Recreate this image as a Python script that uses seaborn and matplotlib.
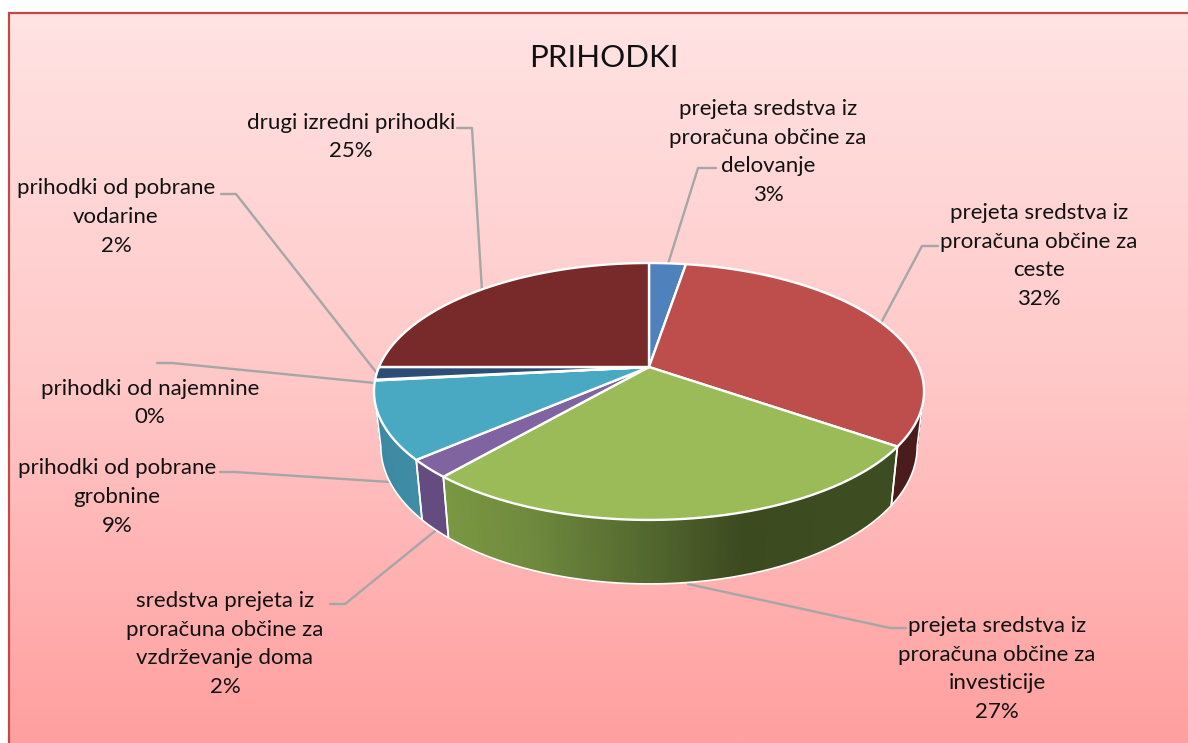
import numpy as np
import matplotlib
matplotlib.use("Agg")
import matplotlib.pyplot as plt
import seaborn as sns

# slices, clockwise from 12 o'clock
categories = [
    "prejeta sredstva iz\nproračuna občine za\ndelovanje",
    "prejeta sredstva iz\nproračuna občine za\nceste",
    "prejeta sredstva iz\nproračuna občine za\ninvesticije",
    "sredstva prejeta iz\nproračuna občine za\nvzdrževanje doma",
    "prihodki od pobrane\ngrobnine",
    "prihodki od najemnine",
    "prihodki od pobrane\nvodarine",
    "drugi izredni prihodki",
]
shares = [2.6, 32.1, 26.6, 2.3, 9.7, 0.1, 1.6, 25.0]
percent_labels = ["3%", "32%", "27%", "2%", "9%", "0%", "2%", "25%"]
top_colors = ["#4f81bd", "#bd4e4c", "#9bbb59", "#8064a2", "#49a9c3", "#f79646", "#2c4d75", "#772a29"]
# wall shades run clockwise, so right side first
wall_colors = {
    1: ["#4a1c1c", "#4a1c1c"],
    2: ["#3e4c22", "#3e4c22", "#3c4a20", "#566b30", "#6f8a3e", "#7a9842"],
    3: ["#654c80", "#654c80"],
    4: ["#3f8ca6", "#3a88a0"],
}

# label centre and leader line, in picture pixels
label_pos = [(768, 152), (1039, 256), (997, 669), (225, 644), (117, 497), (150, 403), (116, 217), (351, 137)]
leaders = [
    [(668, 264), (698, 168), (716, 168)],
    [(881, 323), (922, 246), (938, 246)],
    [(688, 584), (890, 628), (906, 628)],
    [(435, 531), (345, 604), (330, 604)],
    [(390, 482), (235, 472), (220, 472)],
    [(375, 383), (172, 363), (157, 363)],
    [(376, 372), (236, 194), (221, 194)],
    [(482, 291), (472, 128), (457, 128)],
]

CX, CY = 649, 367
PERSP = 0.1905
RX, RY = 270, 123.8
VISIBLE = (101, 259)


def rim(theta):
    # top rim of the tilted disc, theta in degrees clockwise from the top
    t = np.radians(theta)
    u, v = np.sin(t), np.cos(t)
    d = 1 + PERSP * v
    return RX * u / d, -RY * v / d


def top_rim(theta):
    x, y = rim(theta)
    return CX + x, CY + y


def bottom_rim(theta):
    x, y = rim(theta)
    return CX + 0.975 * x, CY + 1.068 * y + 53.6


sns.set_theme(style="white")
plt.rcParams["font.family"] = ["Lato", "DejaVu Sans"]

fig = plt.figure(figsize=(11.88, 7.43), dpi=100, facecolor="white")
ax = fig.add_axes([0, 0, 1, 1])

# background gradient
bg = sns.blend_palette(["#ffe3e3", "#ffc8c8", "#ff9f9f"], n_colors=256)
ax.imshow(np.array(bg)[:, None, :], extent=(8, 1188, 743, 12), aspect="auto", zorder=0)
ax.plot([9, 9, 1188], [743, 13, 13], color="#be4b48", lw=1.6, zorder=1, solid_joinstyle="miter")

edges = np.concatenate([[0], np.cumsum(shares)]) * 3.6

# side walls, each strip overlaps the next so no seams show
for i, colors in wall_colors.items():
    a = max(edges[i], VISIBLE[0])
    b = min(edges[i + 1], VISIBLE[1])
    steps = np.linspace(a, b, int((b - a) * 2) + 2)
    shades = sns.blend_palette(colors, n_colors=len(steps) - 1)
    for s0, s1, c in zip(steps[:-1], steps[1:], shades):
        s2 = min(s1 + 1.0, b)
        p = [top_rim(s0), top_rim(s2), bottom_rim(s2), bottom_rim(s0)]
        ax.fill(*zip(*p), color=c, lw=0, zorder=2)
    outline = [top_rim(a)] + [bottom_rim(s) for s in steps] + [top_rim(b)]
    ax.plot(*zip(*outline), color="white", lw=1.2, zorder=3)

# top faces
for i, c in enumerate(top_colors):
    steps = np.linspace(edges[i], edges[i + 1], max(int(shares[i] * 8), 3))
    p = [(CX, CY)] + [top_rim(s) for s in steps]
    ax.fill(*zip(*p), facecolor=c, edgecolor="white", lw=1.7, zorder=4, joinstyle="round")

# leader lines and labels
for line in leaders:
    ax.plot(*zip(*line), color="#a6a6a6", lw=1.7, zorder=1.5)
for name, pct, (x, y) in zip(categories, percent_labels, label_pos):
    ax.text(x, y, name + "\n" + pct, ha="center", va="center", fontsize=16,
            linespacing=1.55, color="#111111", zorder=5)

ax.text(604, 58, "PRIHODKI", ha="center", va="center", fontsize=22.5, color="#111111", zorder=5)

ax.set_xlim(0, 1188)
ax.set_ylim(743, 0)
ax.axis("off")
fig.savefig("out.png", dpi=100)
